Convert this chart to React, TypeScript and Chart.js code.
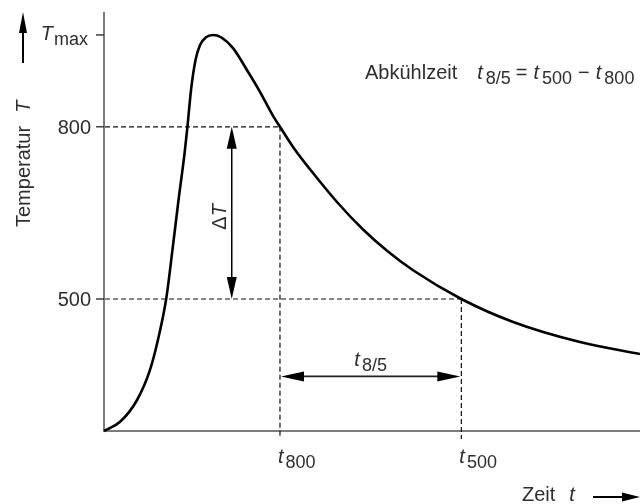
import { useEffect, useRef } from 'react';
import { Chart, registerables } from 'chart.js';

Chart.register(...registerables);

// ---- data ----
const timeValues = [0, 0.9, 1.85, 2.57, 3.02, 3.48, 3.83, 4.17, 4.51, 4.67, 4.87, 5.12, 5.37, 5.71, 6.1, 6.55, 7.22, 8.0, 8.73, 9.46, 9.85, 10.69, 11.53, 13.04, 14.5, 15.84, 17.3, 20.0, 22.9, 26.64, 30];
const temperatureValues = [270, 286, 324, 376, 429, 500, 585, 672, 754, 800, 864, 916, 942, 956, 960, 956, 937, 899, 861, 819, 800, 760, 726, 669, 621, 584, 550, 500, 460, 425, 404];

const T_MAX = 960;
const T_800 = 800;
const T_500 = 500;
const t800 = 9.85;
const t500 = 20;
const yTickValues = [T_MAX, T_800, T_500];
const yTickLabels = ['T|max', '800', '500'];
const xTickValues = [t800, t500];
const xTickLabels = ['t|800', 't|500'];

const X_MIN = 0;
const X_MAX = 30;
const Y_MIN = 270;
const Y_MAX = 1000;

// annotation anchors in data units
const DELTA_T_TIME = 7.15;
const T85_ARROW_TEMP = 365;

// ---- rich text helpers ----
type Part = { text: string; italic?: boolean; sub?: boolean; gap?: number };
const FONT = '"Liberation Sans", Arial, Helvetica, sans-serif';
const MAIN = 20;
const SUB = 18;
const SUBDY = 5;
const TEXT_COLOR = '#2e2e2e';

function partFont(p: Part) {
  return `${p.italic ? 'italic ' : ''}${p.sub ? SUB : MAIN}px ${FONT}`;
}

function measureParts(ctx: CanvasRenderingContext2D, parts: Part[]) {
  let w = 0;
  for (const p of parts) {
    ctx.font = partFont(p);
    w += (p.gap || 0) + ctx.measureText(p.text).width;
  }
  return w;
}

function drawParts(ctx: CanvasRenderingContext2D, parts: Part[], x: number, y: number, align: 'left' | 'right' | 'center') {
  const w = measureParts(ctx, parts);
  let cx = align === 'left' ? x : align === 'right' ? x - w : x - w / 2;
  ctx.textAlign = 'left';
  ctx.textBaseline = 'alphabetic';
  ctx.fillStyle = TEXT_COLOR;
  for (const p of parts) {
    cx += p.gap || 0;
    ctx.font = partFont(p);
    ctx.fillText(p.text, cx, y + (p.sub ? SUBDY : 0));
    cx += ctx.measureText(p.text).width;
  }
}

// "t|800" => italic t with subscript 800; plain strings stay plain
function labelParts(label: string): Part[] {
  const i = label.indexOf('|');
  if (i < 0) return [{ text: label }];
  return [
    { text: label.slice(0, i), italic: true },
    { text: label.slice(i + 1), sub: true, gap: 2 },
  ];
}

function arrowHead(ctx: CanvasRenderingContext2D, tx: number, ty: number, dx: number, dy: number, len: number, hw: number) {
  const bx = tx - dx * len;
  const by = ty - dy * len;
  const nx = -dy;
  const ny = dx;
  ctx.beginPath();
  ctx.moveTo(tx, ty);
  ctx.lineTo(bx + nx * hw, by + ny * hw);
  ctx.lineTo(bx - nx * hw, by - ny * hw);
  ctx.closePath();
  ctx.fill();
}

const diagramPlugin = {
  id: 'diagram',
  beforeDatasetsDraw(chart: any) {
    const { ctx, chartArea: a, scales } = chart;
    const xs = scales.x;
    const ys = scales.y;
    ctx.save();
    // axes
    ctx.strokeStyle = '#7d7d7d';
    ctx.lineWidth = 2;
    ctx.setLineDash([]);
    ctx.beginPath();
    ctx.moveTo(a.left, a.top);
    ctx.lineTo(a.left, a.bottom);
    ctx.lineTo(a.right, a.bottom);
    ctx.stroke();
    // y ticks
    ctx.strokeStyle = '#222';
    ctx.lineWidth = 1.3;
    for (const v of yTickValues) {
      const py = ys.getPixelForValue(v);
      ctx.beginPath();
      ctx.moveTo(a.left - 8, py);
      ctx.lineTo(a.left, py);
      ctx.stroke();
    }
    // dashed guides
    ctx.setLineDash([5, 3]);
    ctx.lineWidth = 1.2;
    ctx.strokeStyle = '#111';
    const guides: [number, number][] = [[T_800, t800], [T_500, t500]];
    for (const [T, t] of guides) {
      const py = ys.getPixelForValue(T);
      const px = xs.getPixelForValue(t);
      ctx.beginPath();
      ctx.moveTo(a.left + 1, py);
      ctx.lineTo(px, py);
      ctx.moveTo(px, py);
      ctx.lineTo(px, a.bottom + 8);
      ctx.stroke();
    }
    ctx.restore();
  },
  afterDatasetsDraw(chart: any) {
    const { ctx, chartArea: a, scales } = chart;
    const xs = scales.x;
    const ys = scales.y;
    ctx.save();
    ctx.setLineDash([]);
    ctx.strokeStyle = '#000';
    ctx.fillStyle = '#000';

    // y tick labels
    yTickValues.forEach((v, i) => {
      const py = ys.getPixelForValue(v);
      const parts = labelParts(yTickLabels[i]);
      if (parts.length > 1) {
        drawParts(ctx, [{ text: parts[0].text, italic: true }, { text: parts[1].text, sub: true, gap: 1 }], a.left - 16, py + 5.5, 'right');
      } else {
        drawParts(ctx, parts, a.left - 13, py + 7, 'right');
      }
    });

    // x tick labels
    xTickValues.forEach((v, i) => {
      const px = xs.getPixelForValue(v);
      drawParts(ctx, labelParts(xTickLabels[i]), px - 2, a.bottom + 32, 'left');
    });

    // ΔT double arrow
    ctx.strokeStyle = '#000';
    ctx.fillStyle = '#000';
    const dx = xs.getPixelForValue(DELTA_T_TIME);
    const y800 = ys.getPixelForValue(T_800);
    const y500 = ys.getPixelForValue(T_500);
    ctx.lineWidth = 1.5;
    ctx.beginPath();
    ctx.moveTo(dx, y800 + 10);
    ctx.lineTo(dx, y500 - 10);
    ctx.stroke();
    arrowHead(ctx, dx, y800, 0, -1, 22, 5);
    arrowHead(ctx, dx, y500, 0, 1, 22, 5);
    ctx.save();
    ctx.translate(dx - 6, (y800 + y500) / 2 + 4);
    ctx.rotate(-Math.PI / 2);
    drawParts(ctx, [{ text: 'Δ' }, { text: 'T', italic: true, gap: 0 }], 0, 0, 'center');
    ctx.restore();

    // t8/5 double arrow
    const ax1 = xs.getPixelForValue(t800);
    const ax2 = xs.getPixelForValue(t500);
    const ay = ys.getPixelForValue(T85_ARROW_TEMP);
    ctx.fillStyle = '#000';
    ctx.lineWidth = 1.8;
    ctx.strokeStyle = '#222';
    ctx.beginPath();
    ctx.moveTo(ax1 + 10, ay);
    ctx.lineTo(ax2 - 10, ay);
    ctx.stroke();
    arrowHead(ctx, ax1 + 1, ay, -1, 0, 23, 5);
    arrowHead(ctx, ax2 - 1, ay, 1, 0, 23, 5);
    drawParts(ctx, [{ text: 't', italic: true }, { text: '8/5', sub: true, gap: 2 }], (ax1 + ax2) / 2, ay - 10, 'center');

    // y-axis title with arrow
    ctx.save();
    ctx.translate(a.left - 74, a.top + 215);
    ctx.rotate(-Math.PI / 2);
    drawParts(ctx, [{ text: 'Temperatur' }, { text: 'T', italic: true, gap: 13 }], 0, 0, 'left');
    ctx.restore();
    ctx.strokeStyle = '#000';
    ctx.fillStyle = '#000';
    ctx.lineWidth = 2;
    const yax = a.left - 81;
    ctx.beginPath();
    ctx.moveTo(yax, a.top + 51);
    ctx.lineTo(yax, a.top + 15);
    ctx.stroke();
    arrowHead(ctx, yax, a.top, 0, -1, 21, 4);

    // x-axis title with arrow
    const xt = a.bottom + 70;
    drawParts(ctx, [{ text: 'Zeit' }, { text: 't', italic: true, gap: 14 }], a.right - 118, xt, 'left');
    ctx.strokeStyle = '#000';
    ctx.fillStyle = '#000';
    ctx.lineWidth = 2;
    const xay = xt - 4;
    ctx.beginPath();
    ctx.moveTo(a.right - 47, xay);
    ctx.lineTo(a.right - 14, xay);
    ctx.stroke();
    arrowHead(ctx, a.right, xay, 1, 0, 18, 4.5);

    // formula annotation
    drawParts(
      ctx,
      [
        { text: 'Abkühlzeit' },
        { text: 't', italic: true, gap: 20 },
        { text: '8/5', sub: true, gap: 3 },
        { text: '=', gap: 5 },
        { text: 't', italic: true, gap: 6 },
        { text: '500', sub: true, gap: 3 },
        { text: '−', gap: 6 },
        { text: 't', italic: true, gap: 6 },
        { text: '800', sub: true, gap: 3 },
      ],
      365,
      a.top + 67,
      'left'
    );
    ctx.restore();
  },
};

export default function App() {
  const canvasRef = useRef<HTMLCanvasElement | null>(null);

  useEffect(() => {
    const canvas = canvasRef.current;
    if (!canvas) return;
    const points = timeValues.map((t, i) => ({ x: t, y: temperatureValues[i] }));
    const chart = new Chart(canvas, {
      type: 'line',
      data: {
        datasets: [
          {
            data: points,
            borderColor: '#000',
            borderWidth: 2.6,
            pointRadius: 0,
            fill: false,
            cubicInterpolationMode: 'monotone',
            clip: 4,
          } as any,
        ],
      },
      options: {
        animation: false,
        responsive: false,
        devicePixelRatio: 1,
        layout: { padding: { left: 104, top: 12, right: 0, bottom: 73 } },
        scales: {
          x: { type: 'linear', min: X_MIN, max: X_MAX, display: false },
          y: { type: 'linear', min: Y_MIN, max: Y_MAX, display: false },
        },
        plugins: {
          legend: { display: false },
          tooltip: { enabled: false },
        },
      },
      plugins: [diagramPlugin],
    });
    return () => chart.destroy();
  }, []);

  return (
    <div style={{ position: 'fixed', left: 0, top: 0, width: 640, height: 504, background: '#fff' }}>
      <canvas ref={canvasRef} width={640} height={504} style={{ display: 'block' }} />
    </div>
  );
}
